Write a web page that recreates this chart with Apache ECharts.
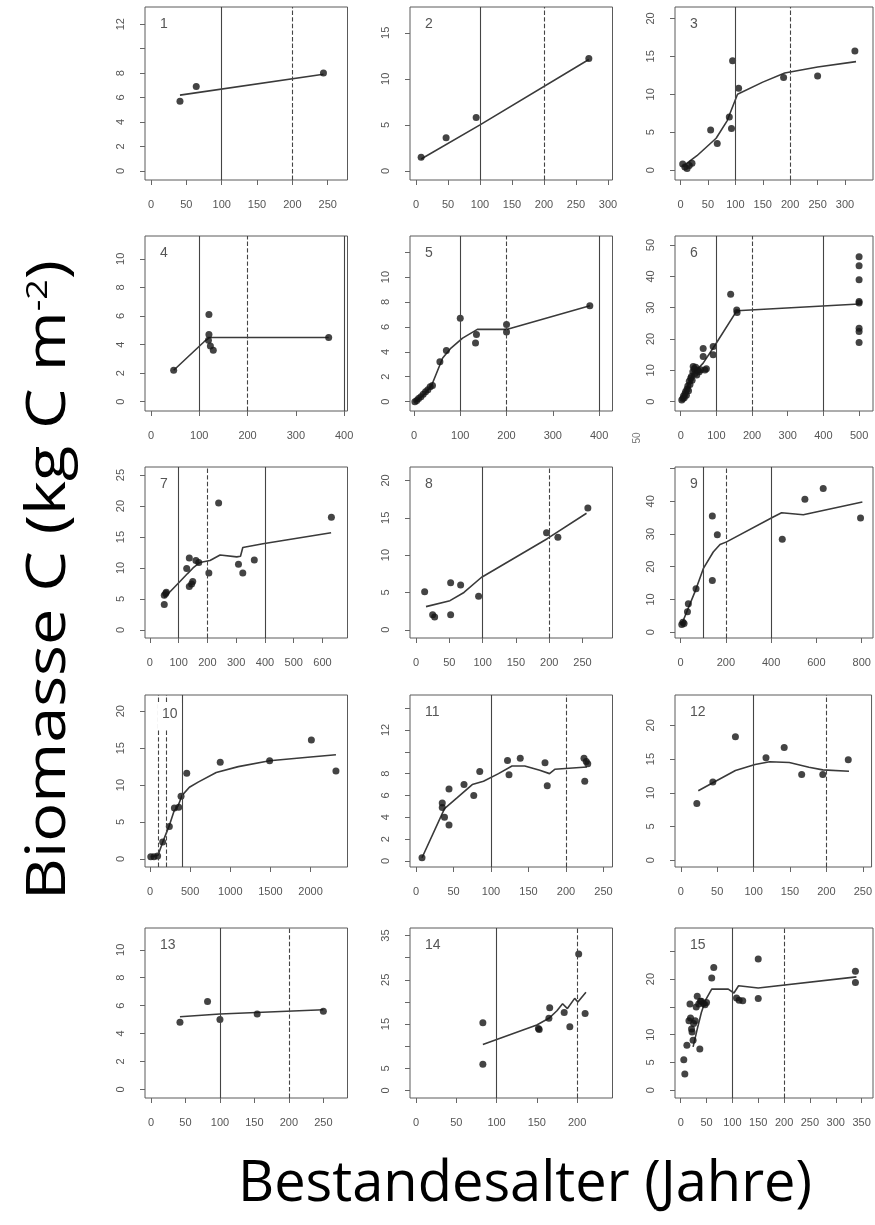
<!DOCTYPE html>
<html><head><meta charset="utf-8">
<script src="https://cdn.jsdelivr.net/npm/echarts@6/dist/echarts.min.js"></script>
<style>html,body{margin:0;padding:0;background:#fff}#c{width:875px;height:1225px}</style>
</head><body><div id="c"></div><script>
// ---- data: [age (years), biomass C (kg C m-2)] ----
const pts1 = [[41,5.7],[64,6.9],[244,8.0]];
const fit1 = [[41,6.2],[244,7.9]];
const pts2 = [[8,1.5],[47,3.6],[94,5.8],[270,12.2]];
const fit2 = [[8,1.3],[100,5.0],[270,12.1]];
const pts3 = [[4,0.8],[8,0.4],[12,0.2],[16,0.6],[21,0.9],[55,5.3],[67,3.5],[89,7.0],[93,5.5],[95,14.4],[106,10.8],[188,12.2],[250,12.4],[318,15.7]];
const fit3 = [[4,0.5],[30,1.9],[65,4.2],[85,6.5],[104,10.0],[150,11.6],[190,12.8],[250,13.6],[320,14.3]];
const pts4 = [[47,2.2],[120,6.1],[120,4.7],[119,4.3],[123,3.9],[129,3.6],[368,4.5]];
const fit4 = [[47,2.2],[110,4.2],[122,4.5],[368,4.5]];
const pts5 = [[2,0.0],[6,0.1],[10,0.25],[15,0.4],[20,0.6],[25,0.8],[30,0.95],[35,1.2],[40,1.3],[56,3.2],[70,4.1],[100,6.7],[133,4.7],[135,5.4],[200,6.2],[200,5.6],[380,7.7]];
const fit5 = [[2,0],[20,0.5],[38,1.3],[50,2.4],[62,3.5],[80,4.3],[105,5.1],[137,5.8],[200,5.8],[380,7.7]];
const pts6 = [[3,0.5],[6,1.0],[8,1.8],[10,1.2],[12,2.5],[14,3.2],[16,2.0],[18,4.0],[20,5.0],[22,3.5],[24,6.5],[26,5.5],[28,7.5],[30,8.0],[32,6.8],[34,9.5],[35,11.2],[38,10.5],[40,9.0],[42,11.0],[45,8.5],[48,10.0],[52,9.5],[56,10.2],[63,17],[63,14.4],[68,10.1],[72,10.5],[91,17.6],[91,15],[140,34.3],[157,29.3],[158,28.5],[500,46.3],[500,43.4],[500,38.9],[500,32],[500,31.5],[500,23.4],[500,22.4],[500,18.9]];
const fit6 = [[3,0.5],[35,9],[63,12.3],[96,18],[157,29],[500,31.2]];
const pts7 = [[50,4.1],[50,5.6],[55,5.9],[57,6.1],[128,9.9],[137,11.6],[137,7.0],[145,7.4],[149,7.8],[160,11.2],[170,10.9],[205,9.2],[239,20.5],[308,10.6],[323,9.2],[363,11.3],[631,18.2]];
const fit7 = [[50,5.2],[102,7.7],[131,9.1],[150,10.0],[174,10.9],[209,11.2],[244,12.1],[302,11.8],[315,11.9],[323,13.3],[393,13.9],[630,15.7]];
const pts8 = [[13,5.1],[25,2.0],[28,1.7],[52,2.0],[52,6.3],[67,6.0],[94,4.5],[196,13.0],[213,12.4],[258,16.3]];
const fit8 = [[15,3.1],[51,3.9],[72,5.0],[98,7.0],[197,12.2],[256,15.6]];
const pts9 = [[5,2.3],[10,3.0],[15,2.6],[30,6.2],[34,8.7],[68,13.3],[140,35.5],[162,29.8],[140,15.8],[449,28.4],[549,40.6],[630,43.9],[795,34.9]];
const fit9 = [[5,2.5],[63,12.3],[100,19.4],[144,24.5],[174,26.8],[203,27.6],[409,35.2],[446,36.5],[542,35.9],[803,39.8]];
const pts10 = [[10,0.3],[50,0.3],[95,0.4],[158,2.3],[241,4.4],[304,6.9],[358,7.0],[387,8.5],[458,11.6],[875,13.1],[1490,13.3],[2010,16.1],[2316,11.9]];
const fit10 = [[10,0.3],[100,0.5],[160,2.3],[240,4.5],[300,6.5],[350,7.2],[400,8.6],[491,9.7],[600,10.4],[825,11.7],[1100,12.5],[1490,13.3],[2000,13.8],[2316,14.1]];
const pts11 = [[8,0.3],[35,5.3],[35,4.9],[38,4.0],[44,3.3],[44,6.6],[64,7.0],[77,6.0],[85,8.2],[122,9.2],[124,7.9],[139,9.4],[172,9.0],[175,6.9],[224,9.4],[227,9.1],[229,8.9],[225,7.3]];
const fit11 = [[8,0.3],[38,4.8],[55,5.8],[75,7.0],[90,7.3],[110,8.0],[128,8.7],[145,8.7],[165,8.3],[178,8.0],[185,8.4],[228,8.6]];
const pts12 = [[22,8.4],[44,11.6],[75,18.3],[117,15.2],[142,16.7],[166,12.7],[195,12.7],[230,14.9]];
const fit12 = [[24,10.3],[44,11.5],[75,13.3],[102,14.2],[122,14.6],[149,14.5],[176,13.8],[195,13.4],[231,13.2]];
const pts13 = [[42,4.8],[82,6.3],[100,5.0],[154,5.4],[250,5.6]];
const fit13 = [[42,5.2],[100,5.4],[250,5.7]];
const pts14 = [[83,15.3],[83,5.9],[152,14.0],[153,13.8],[165,16.3],[166,18.7],[184,17.6],[191,14.4],[202,30.8],[210,17.4]];
const fit14 = [[83,10.4],[150,14.8],[165,16.3],[175,18.0],[182,19.6],[188,18.5],[197,20.8],[201,20.0],[211,22.2]];
const pts15 = [[6,5.5],[8,2.9],[12,8.1],[16,12.5],[18,15.5],[19,13],[21,11],[22,10.5],[24,9.0],[25,12.0],[28,12.5],[30,15],[32,16.9],[35,15.5],[37,7.4],[38,16],[40,16],[44,15.6],[47,15.4],[50,15.8],[60,20.2],[64,22.1],[108,16.6],[113,16.2],[120,16.1],[150,23.6],[150,16.5],[338,21.4],[338,19.4]];
const fit15 = [[24,7.8],[32,11],[40,14],[48,16.2],[60,18.2],[92,18.2],[103,17.5],[112,18.8],[150,18.4],[340,20.4]];

const panelLabels = ['1','2','3','4','5','6','7','8','9','10','11','12','13','14','15'];
const points = [pts1,pts2,pts3,pts4,pts5,pts6,pts7,pts8,pts9,pts10,pts11,pts12,pts13,pts14,pts15];
const fits = [fit1,fit2,fit3,fit4,fit5,fit6,fit7,fit8,fit9,fit10,fit11,fit12,fit13,fit14,fit15];

// tick values per panel
const xTicks = [
  [0,50,100,150,200,250],[0,50,100,150,200,250,300],[0,50,100,150,200,250,300],
  [0,100,200,300,400],[0,100,200,300,400],[0,100,200,300,400,500],
  [0,100,200,300,400,500,600],[0,50,100,150,200,250],[0,200,400,600,800],
  [0,500,1000,1500,2000],[0,50,100,150,200,250],[0,50,100,150,200,250],
  [0,50,100,150,200,250],[0,50,100,150,200],[0,50,100,150,200,250,300,350]
];
const yTicks = [
  [0,2,4,6,8,10,12],[0,5,10,15],[0,5,10,15,20],
  [0,2,4,6,8,10],[0,2,4,6,8,10,12],[0,10,20,30,40,50],
  [0,5,10,15,20,25],[0,5,10,15,20],[0,10,20,30,40,50],
  [0,5,10,15,20],[0,2,4,6,8,10,12,14],[0,5,10,15,20],
  [0,2,4,6,8,10],[0,5,10,15,20,25,30,35],[0,5,10,15,20,25]
];
const yLabels = [
  [0,2,4,6,8,12],[0,5,10,15],[0,5,10,15,20],
  [0,2,4,6,8,10],[0,2,4,6,8,10],[0,10,20,30,40,50],
  [0,5,10,15,20,25],[0,5,10,15,20],[0,10,20,30,40],
  [0,5,10,15,20],[0,2,4,6,8,12],[0,5,10,15,20],
  [0,2,4,6,8,10],[0,5,15,25,35],[0,5,10,20]
];
// reference lines (age, style)
const refLines = [
  [[100,'solid'],[200,'dashed']],[[100,'solid'],[200,'dashed']],[[100,'solid'],[200,'dashed']],
  [[100,'solid'],[200,'dashed'],[400,'solid']],[[100,'solid'],[200,'dashed'],[400,'solid']],[[100,'solid'],[200,'dashed'],[400,'solid']],
  [[100,'solid'],[200,'dashed'],[400,'solid']],[[100,'solid'],[200,'dashed']],[[100,'solid'],[200,'dashed'],[400,'solid']],
  [[100,'dashed'],[200,'dashed'],[400,'solid']],[[100,'solid'],[200,'dashed']],[[100,'solid'],[200,'dashed']],
  [[100,'solid'],[200,'dashed']],[[100,'solid'],[200,'dashed']],[[100,'solid'],[200,'dashed']]
];
// axis domains
const xDom = [[-8.5,278],[-9.4,307],[-10,351],[-12.4,407],[-8.6,429],[-16,539],[-17,687],[-9,295],[-25,850],[-62,2460],[-8,262],[-8,262],[-8.7,285],[-7.5,244],[-11,372]];
const yDom = [[-0.74,13.4],[-0.98,17.8],[-1.3,21.5],[-0.65,11.6],[-0.75,13.3],[-3,52.9],[-1.3,26.3],[-1.1,21.8],[-1.8,50.5],[-1.1,22.2],[-0.55,15.2],[-1,24.5],[-0.62,11.56],[-1.7,36.7],[-1.4,29.2]];

// ---- layout ----
const colLeft = [145, 410, 675], colW = [202.5, 202.5, 198];
const rowTop = [7, 236, 467, 695, 928], rowH = [173, 175, 171, 172, 170];
const tickFont = 'Liberation Sans';
const plain = v => String(v);
const grids = [], xAxes = [], yAxes = [], series = [], titles = [];

for (let i = 0; i < 15; i++) {
  const r = Math.floor(i / 3), c = i % 3;
  grids.push({left: colLeft[c], top: rowTop[r], width: colW[c], height: rowH[r], show: true, borderColor: '#5a5a5a', borderWidth: 1, backgroundColor: 'transparent'});
  xAxes.push({
    gridIndex: i, type: 'value', min: xDom[i][0], max: xDom[i][1],
    axisLine: {show: false, onZero: false}, splitLine: {show: false},
    axisTick: {show: true, inside: false, length: 5, customValues: xTicks[i], lineStyle: {color: '#666'}},
    axisLabel: {customValues: xTicks[i], formatter: plain, margin: 19, fontSize: 11, color: '#555', fontFamily: tickFont}
  });
  yAxes.push({
    gridIndex: i, type: 'value', min: yDom[i][0], max: yDom[i][1],
    axisLine: {show: false, onZero: false}, splitLine: {show: false},
    axisTick: {show: true, inside: false, length: 5, customValues: yTicks[i], lineStyle: {color: '#666'}},
    axisLabel: {customValues: yLabels[i], formatter: plain, rotate: 90, margin: 19, fontSize: 11, color: '#555', fontFamily: tickFont}
  });
  series.push({
    type: 'line', xAxisIndex: i, yAxisIndex: i, data: fits[i], showSymbol: false, smooth: false,
    lineStyle: {color: '#3a3a3a', width: 1.6}, silent: true, z: 3,
    markLine: {
      silent: true, symbol: ['none', 'none'], label: {show: false},
      data: refLines[i].map(v => ({xAxis: v[0], lineStyle: {type: v[1], color: '#444', width: 1.1}})),
      emphasis: {disabled: true}
    }
  });
  series.push({
    type: 'scatter', xAxisIndex: i, yAxisIndex: i, data: points[i], symbolSize: 7,
    itemStyle: {color: '#151515'}, silent: true, z: 4
  });
  const isTen = i === 9;
  titles.push({
    text: panelLabels[i], left: colLeft[c] + 13, top: rowTop[r] + 8,
    padding: isTen ? [4, 4, 8, 4] : [2, 2], backgroundColor: isTen ? '#fff' : 'transparent',
    textStyle: {fontSize: 14, fontWeight: 'normal', color: '#555', fontFamily: tickFont}
  });
}

const chart = echarts.init(document.getElementById('c'), null, {renderer: 'canvas'});
chart.setOption({
  animation: false,
  backgroundColor: '#fff',
  title: titles,
  grid: grids, xAxis: xAxes, yAxis: yAxes, series: series,
  graphic: [
    {type: 'text', x: 525, y: 1185, z: 10,
     style: {text: 'Bestandesalter (Jahre)', fontSize: 56, fontFamily: 'Open Sans', fill: '#000', align: 'center', verticalAlign: 'middle'}},
    {type: 'text', x: 50, y: 580, rotation: Math.PI / 2, scaleX: 1.2, z: 10,
     style: {text: '{a|Biomasse C (kg C m}{b|-2}{a|)}', align: 'center', verticalAlign: 'middle',
       rich: {a: {fontSize: 54, fontFamily: 'Open Sans', fill: '#000'}, b: {fontSize: 30, fontFamily: 'Open Sans', fill: '#000', verticalAlign: 'top'}}}},
    {type: 'text', x: 637, y: 438, rotation: Math.PI / 2, z: 10,
     style: {text: '50', fontSize: 10, fontFamily: tickFont, fill: '#777', align: 'center', verticalAlign: 'middle'}}
  ]
});
</script></body></html>
